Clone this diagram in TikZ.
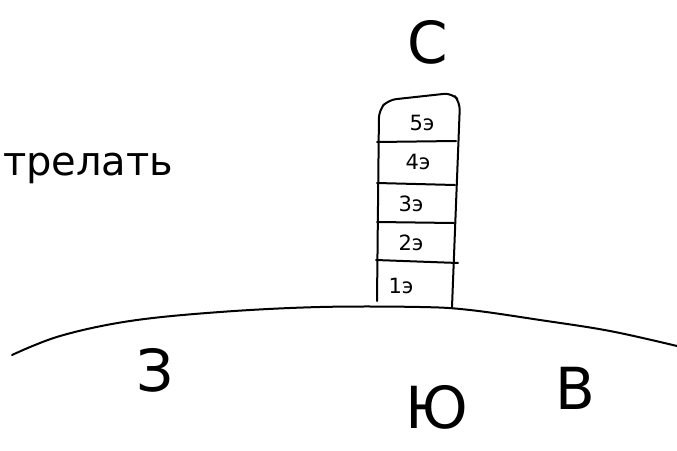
\documentclass[tikz,border=0pt]{standalone}
\usepackage{fontspec}
\setmainfont{DejaVu Sans}
\begin{document}
\begin{tikzpicture}[x=1pt,y=-1pt,line width=2pt,line cap=round,line join=round,
  floor/.style={font=\fontsize{21}{21}\selectfont},
  lbl/.style={font=\fontsize{58}{58}\selectfont}]
\useasboundingbox (0,0) rectangle (677,450);
% horizon
\draw plot[smooth,tension=0.6] coordinates {(12,355) (60,336) (130,321) (220,312) (320,307) (420,307) (470,310) (540,320) (610,331) (677,346)};
% tower
\coordinate (bl) at (377,301);
\coordinate (br) at (452,307);
\draw[rounded corners=8pt] (bl) -- (379,110) -- (388,100) -- (452,93) -- (460,102) -- (br);
\draw (377,142) -- (456,141);
\draw (377,183) -- (455,185);
\draw (377,222) -- (454,223);
\draw (376,260) -- (458,263);
\node[floor] (f5) at (422,123) {5э};
\node[floor] (f4) at (418,162) {4э};
\node[floor] (f3) at (411,204) {3э};
\node[floor] (f2) at (411,243) {2э};
\node[floor] (f1) at (401,286) {1э};
% letters
\node[lbl] (n) at (428,42) {С};
\node[lbl] (w) at (155,370) {З};
\node[lbl] (s) at (437,407) {Ю};
\node[lbl] (e) at (575,388) {В};
\node[font=\fontsize{40}{40}\selectfont,anchor=west,inner sep=0pt] (word) at (2,168) {трелать};
\end{tikzpicture}
\end{document}
